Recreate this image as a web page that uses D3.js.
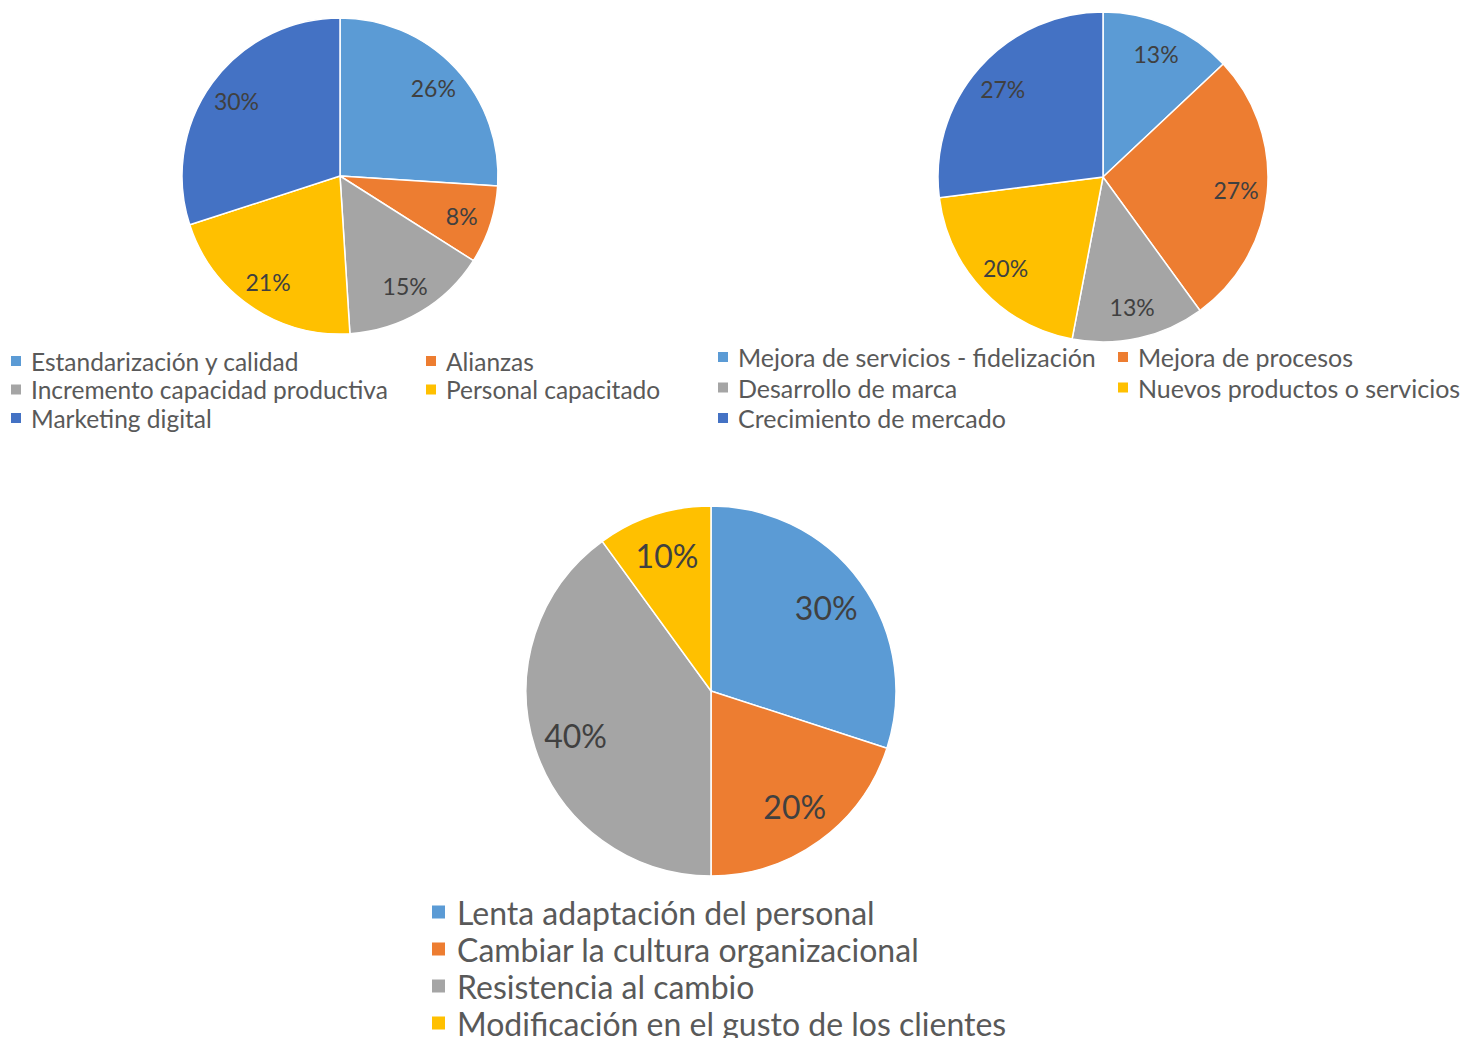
<!DOCTYPE html>
<html>
<head>
<meta charset="utf-8">
<script src="https://cdn.jsdelivr.net/npm/d3@7"></script>
<style>
  html, body { margin: 0; padding: 0; background: #ffffff; }
  svg { display: block; font-family: Lato, "Noto Sans", sans-serif; }
</style>
</head>
<body>
<svg id="chart" width="1463" height="1038"></svg>
<script>
// Pie 1: strategic lines
const categories1 = ["Estandarización y calidad", "Alianzas", "Incremento capacidad productiva", "Personal capacitado", "Marketing digital"];
const values1 = [26, 8, 15, 21, 30];

// Pie 2: innovation objectives
const categories2 = ["Mejora de servicios - fidelización", "Mejora de procesos", "Desarrollo de marca", "Nuevos productos o servicios", "Crecimiento de mercado"];
const values2 = [13, 27, 13, 20, 27];

// Pie 3: obstacles
const categories3 = ["Lenta adaptación del personal", "Cambiar la cultura organizacional", "Resistencia al cambio", "Modificación en el gusto de los clientes"];
const values3 = [30, 20, 40, 10];

const palette = ["#5B9BD5", "#ED7D31", "#A5A5A5", "#FFC000", "#4472C4"];

const svg = d3.select("#chart");

function drawPie(cfg) {
  const color = d3.scaleOrdinal().domain(cfg.categories).range(palette);
  const pie = d3.pie().sort(null).value(d => d.value);
  const data = cfg.categories.map((c, i) => ({ name: c, value: cfg.values[i] }));
  const arcs = pie(data);
  const arc = d3.arc().innerRadius(0).outerRadius(cfg.r);
  const labelArc = d3.arc().innerRadius(cfg.r * cfg.labelPos).outerRadius(cfg.r * cfg.labelPos);

  const g = svg.append("g").attr("transform", `translate(${cfg.cx},${cfg.cy})`);
  g.selectAll("path.slice")
    .data(arcs)
    .join("path")
    .attr("class", "slice")
    .attr("d", arc)
    .attr("fill", d => color(d.data.name))
    .attr("stroke", "#ffffff")
    .attr("stroke-width", 1.5);

  g.selectAll("text.pct")
    .data(arcs)
    .join("text")
    .attr("class", "pct")
    .attr("transform", d => `translate(${labelArc.centroid(d)})`)
    .attr("text-anchor", "middle")
    .attr("dominant-baseline", "central")
    .attr("font-size", cfg.labelSize)
    .attr("fill", "#404040")
    .text(d => d.data.value + "%");

  // legend
  const lg = svg.append("g");
  cfg.categories.forEach((c, i) => {
    const col = i % cfg.cols;
    const row = Math.floor(i / cfg.cols);
    const x = cfg.legendX[col];
    const y = cfg.legendY + row * cfg.rowH;
    lg.append("rect")
      .attr("x", x)
      .attr("y", y - cfg.sq / 2)
      .attr("width", cfg.sq)
      .attr("height", cfg.sq)
      .attr("fill", color(c));
    lg.append("text")
      .attr("x", x + cfg.sq + cfg.gap)
      .attr("y", y)
      .attr("dominant-baseline", "central")
      .attr("font-size", cfg.legendSize)
      .attr("fill", "#595959")
      .text(c);
  });
}

drawPie({
  categories: categories1, values: values1,
  cx: 340, cy: 176, r: 158, labelPos: 0.81, labelSize: 23,
  cols: 2, legendX: [11, 426], legendY: 361, rowH: 28.5, sq: 10, gap: 10, legendSize: 24.5
});

drawPie({
  categories: categories2, values: values2,
  cx: 1103, cy: 177, r: 165, labelPos: 0.81, labelSize: 23,
  cols: 2, legendX: [718, 1118], legendY: 357, rowH: 30.5, sq: 10, gap: 10, legendSize: 25
});

drawPie({
  categories: categories3, values: values3,
  cx: 711, cy: 691, r: 185, labelPos: 0.77, labelSize: 32,
  cols: 1, legendX: [432], legendY: 912, rowH: 37, sq: 13, gap: 12, legendSize: 32
});
</script>
</body>
</html>
